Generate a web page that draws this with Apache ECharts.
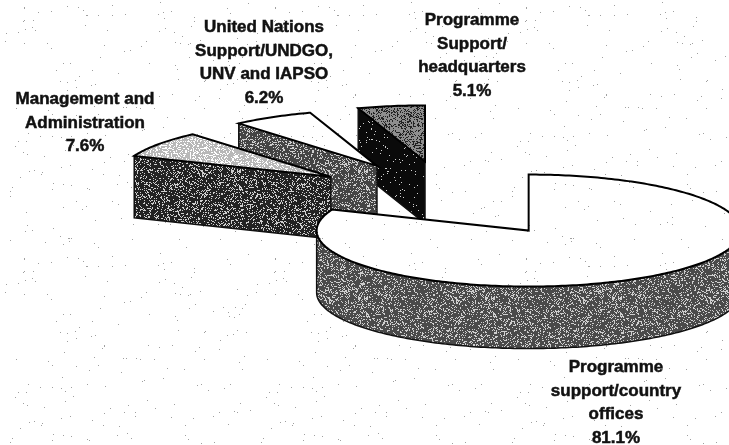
<!DOCTYPE html>
<html>
<head>
<meta charset="utf-8">
<style>
html, body { margin: 0; padding: 0; background: #fff; }
#main { width: 729px; height: 445px; }
</style>
</head>
<body>
<div id="main"></div>
<script src="https://cdn.jsdelivr.net/npm/echarts@6/dist/echarts.min.js"></script>
<script>
// clockwise from 12 o'clock
let categories = ['Programme\nsupport/country\noffices', 'Management and\nAdministration', 'United Nations\nSupport/UNDGO,\nUNV and IAPSO', 'Programme\nSupport/\nheadquarters']
let values = [81.1, 7.6, 6.2, 5.1]

let labelPos = [[616, 403], [85, 123], [264, 63], [472, 56]]
let topColor = ['#ffffff', '#b8b8b8', '#ffffff', '#8e8e8e']
let sideColor = ['#4a4a4a', '#222222', '#444444', '#0a0a0a']

// pie centre before the slices are pulled out, ellipse radii, thickness
let cx = 448, cy = 199, rx = 212, ry = 56, depth = 62, explode = 0.68

let total = values.reduce(function(a, b) { return a + b }, 0)
let startAngle = []
values.reduce(function(sum, v, i) {
	startAngle[i] = sum / total * 360
	return sum + v
}, 0)

//fixed dither tile, gives the scanned look
function stipple(color, amount, grain, size) {
	let c = document.createElement('canvas')
	c.width = c.height = size
	let ctx = c.getContext('2d')
	ctx.fillStyle = color
	ctx.fillRect(0, 0, size, size)
	for(let y = 0; y < size; y++) {
		for(let x = 0; x < size; x++) {
			let h = Math.imul(x + 1, 374761393) ^ Math.imul(y + 1, 668265263)
			h = Math.imul(h ^ (h >>> 13), 1274126177)
			h = (h ^ (h >>> 16)) >>> 0
			if(h % 1000 < amount) {
				ctx.fillStyle = grain
				ctx.fillRect(x, y, 1, 1)
			}
		}
	}
	return { image: c, repeat: 'repeat' }
}

function point(ox, oy, deg) {
	let a = deg * Math.PI / 180
	return [ox + rx * Math.sin(a), oy - ry * Math.cos(a)]
}

let paper = stipple('#ffffff', 4, '#a0a0a0', 251)

function renderSlice(params, api) {
	let i = api.value(0)
	let from = startAngle[i]
	let to = from + values[i] / total * 360
	let mid = (from + to) / 2 * Math.PI / 180
	let ox = cx + explode * rx * Math.sin(mid)
	let oy = cy - explode * ry * Math.cos(mid)

	let rim = []
	for(let d = from; d < to; d += 1) rim.push(point(ox, oy, d))
	rim.push(point(ox, oy, to))

	let children = []
	let sideFill = stipple(sideColor[i], i === 3 ? 30 : 230, '#cfcfcf', 127)
	let down = function(p) { return [p[0], p[1] + depth] }

	// outer wall, only the part facing the viewer
	let wall = []
	for(let d = Math.max(from, 90); d < Math.min(to, 270); d += 1) wall.push(point(ox, oy, d))
	if(wall.length) {
		wall.push(point(ox, oy, Math.min(to, 270)))
		children.push({
			type: 'polygon',
			shape: { points: wall.concat(wall.map(down).reverse()) },
			style: { fill: sideFill, stroke: '#111', lineWidth: 1.5 }
		})
	}
	// cut face on the leading edge of the small slices
	if(from >= 180) {
		let a = point(ox, oy, from)
		let b = [ox, oy]
		children.push({
			type: 'polygon',
			shape: { points: [a, b, down(b), down(a)] },
			style: { fill: sideFill, stroke: '#111', lineWidth: 1.5 }
		})
	}
	// top
	children.push({
		type: 'polygon',
		shape: { points: rim.concat([[ox, oy]]) },
		style: {
			fill: topColor[i] === '#ffffff' ? paper : stipple(topColor[i], 300, i === 3 ? '#222' : '#fff', 127),
			stroke: '#000',
			lineWidth: 2
		}
	})
	children.push({
		type: 'text',
		style: {
			x: labelPos[i][0],
			y: labelPos[i][1],
			text: categories[i] + '\n' + values[i].toFixed(1) + '%',
			textAlign: 'center',
			textVerticalAlign: 'middle',
			font: 'bold 17px "Liberation Sans", Arial, sans-serif',
			lineHeight: 23.5,
			fill: '#111',
			stroke: '#111',
			lineWidth: 0.5
		}
	})
	return { type: 'group', children: children }
}

let chart = echarts.init(document.getElementById('main'))
chart.setOption({
	animation: false,
	backgroundColor: paper,
	series: [{
		type: 'custom',
		coordinateSystem: 'none',
		renderItem: renderSlice,
		// back slices first so the big slice sits on top
		data: values.map(function(v, i) { return [i, v] }).reverse()
	}]
})
</script>
</body>
</html>
